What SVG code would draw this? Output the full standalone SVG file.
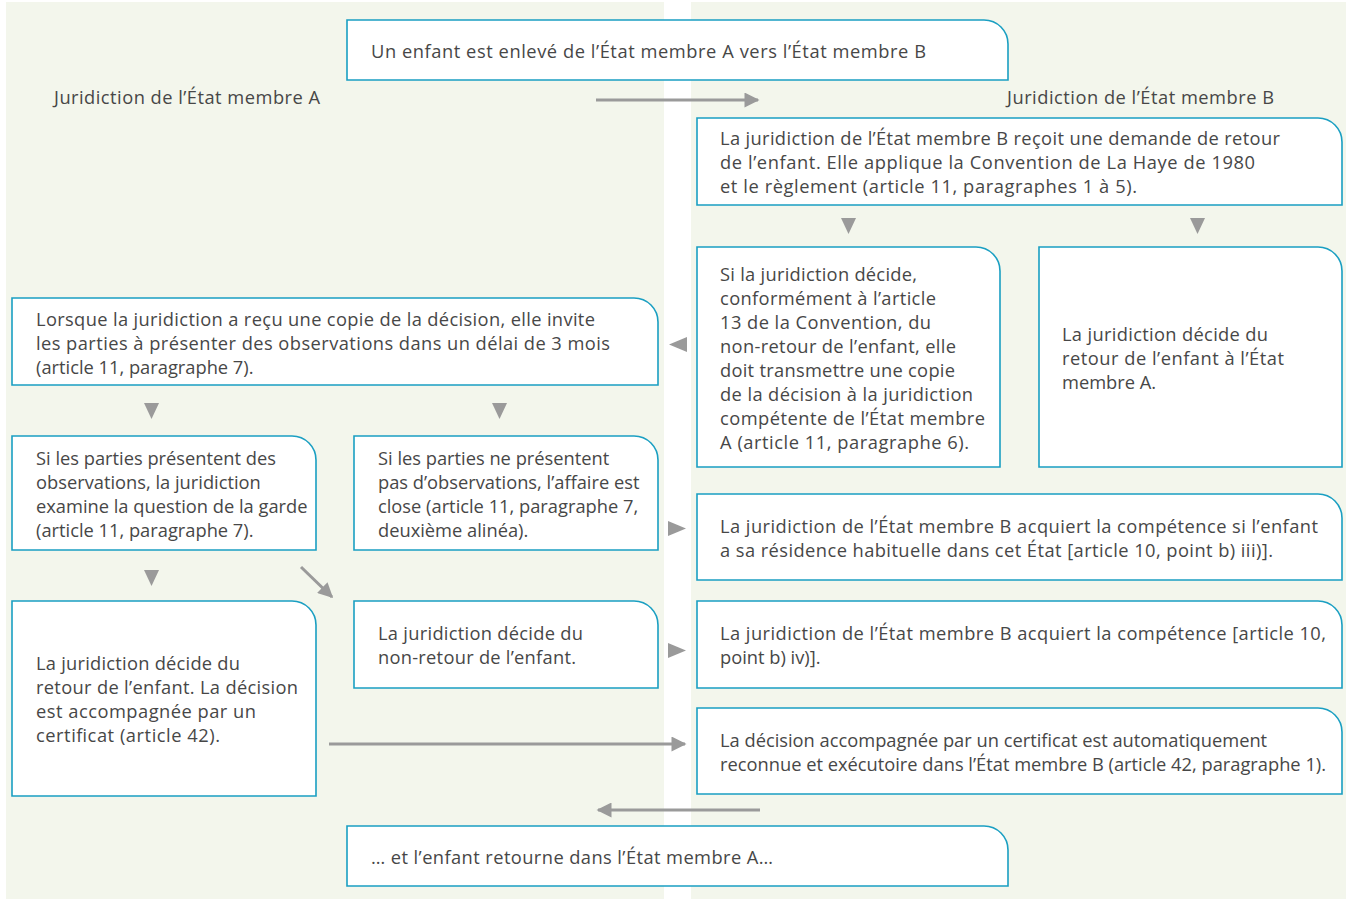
<svg xmlns="http://www.w3.org/2000/svg" width="1347" height="901" viewBox="0 0 1347 901">
<style>
.bg{fill:#f3f6ec}
.box{fill:#fff;stroke:#1a9fc2;stroke-width:1.6}
text{font-family:"Open Sans","Noto Sans",sans-serif;font-size:18.3px;fill:#474747}
.ln{stroke:#9a9a9a;stroke-width:3;fill:none}
.tri{fill:#9a9a9a}
</style>
<defs>
<marker id="ah" viewBox="0 0 10 10" refX="9" refY="5" markerWidth="6" markerHeight="5" orient="auto" markerUnits="strokeWidth">
<path d="M0,0 L10,5 L0,10 Z" fill="#9a9a9a"/>
</marker>
</defs>
<rect class="bg" x="6" y="2" width="658" height="897"/>
<rect class="bg" x="691" y="2" width="655" height="897"/>

<g id="n-top"><path class="box" d="M347,20 H984 A24,24 0 0 1 1008,44 V80 H347 Z"/>
<text x="371" y="58" textLength="555" lengthAdjust="spacing">Un enfant est enlevé de l’État membre A vers l’État membre B</text></g>
<g id="lbl-a"><text x="54" y="104" textLength="266" lengthAdjust="spacing">Juridiction de l’État membre A</text></g>
<g id="lbl-b"><text x="1007" y="104" textLength="267" lengthAdjust="spacing">Juridiction de l’État membre B</text></g>

<g id="n-b-demande"><path class="box" d="M697,118 H1318 A24,24 0 0 1 1342,142 V205 H697 Z"/>
<text x="720" y="145" textLength="560" lengthAdjust="spacing">La juridiction de l’État membre B reçoit une demande de retour</text>
<text x="720" y="169" textLength="535" lengthAdjust="spacing">de l’enfant. Elle applique la Convention de La Haye de 1980</text>
<text x="720" y="193" textLength="417" lengthAdjust="spacing">et le règlement (article 11, paragraphes 1 à 5).</text></g>

<g id="n-b-nonretour"><path class="box" d="M697,247 H976 A24,24 0 0 1 1000,271 V467 H697 Z"/>
<text x="720" y="281" textLength="197" lengthAdjust="spacing">Si la juridiction décide,</text>
<text x="720" y="305" textLength="216" lengthAdjust="spacing">conformément à l’article</text>
<text x="720" y="329" textLength="211" lengthAdjust="spacing">13 de la Convention, du</text>
<text x="720" y="353" textLength="236" lengthAdjust="spacing">non-retour de l’enfant, elle</text>
<text x="720" y="377" textLength="235" lengthAdjust="spacing">doit transmettre une copie</text>
<text x="720" y="401" textLength="253" lengthAdjust="spacing">de la décision à la juridiction</text>
<text x="720" y="425" textLength="265" lengthAdjust="spacing">compétente de l’État membre</text>
<text x="720" y="449" textLength="249" lengthAdjust="spacing">A (article 11, paragraphe 6).</text></g>

<g id="n-b-retour"><path class="box" d="M1039,247 H1318 A24,24 0 0 1 1342,271 V467 H1039 Z"/>
<text x="1062" y="341" textLength="206" lengthAdjust="spacing">La juridiction décide du</text>
<text x="1062" y="365" textLength="222" lengthAdjust="spacing">retour de l’enfant à l’État</text>
<text x="1062" y="389">membre A.</text></g>

<g id="n-a-copie"><path class="box" d="M12,298 H634 A24,24 0 0 1 658,322 V385 H12 Z"/>
<text x="36" y="326" textLength="559" lengthAdjust="spacing">Lorsque la juridiction a reçu une copie de la décision, elle invite</text>
<text x="36" y="350" textLength="574" lengthAdjust="spacing">les parties à présenter des observations dans un délai de 3 mois</text>
<text x="36" y="374">(article 11, paragraphe 7).</text></g>

<g id="n-a-obs"><path class="box" d="M12,436 H292 A24,24 0 0 1 316,460 V550 H12 Z"/>
<text x="36" y="465">Si les parties présentent des</text>
<text x="36" y="489">observations, la juridiction</text>
<text x="36" y="513">examine la question de la garde</text>
<text x="36" y="537">(article 11, paragraphe 7).</text></g>

<g id="n-a-noobs"><path class="box" d="M354,436 H634 A24,24 0 0 1 658,460 V550 H354 Z"/>
<text x="378" y="465">Si les parties ne présentent</text>
<text x="378" y="489">pas d’observations, l’affaire est</text>
<text x="378" y="513">close (article 11, paragraphe 7,</text>
<text x="378" y="537">deuxième alinéa).</text></g>

<g id="n-b-comp1"><path class="box" d="M697,494 H1318 A24,24 0 0 1 1342,518 V580 H697 Z"/>
<text x="720" y="533" textLength="598" lengthAdjust="spacing">La juridiction de l’État membre B acquiert la compétence si l’enfant</text>
<text x="720" y="557" textLength="553" lengthAdjust="spacing">a sa résidence habituelle dans cet État [article 10, point b) iii)].</text></g>

<g id="n-a-retour"><path class="box" d="M12,601 H292 A24,24 0 0 1 316,625 V796 H12 Z"/>
<text x="36" y="670" textLength="204" lengthAdjust="spacing">La juridiction décide du</text>
<text x="36" y="694" textLength="262" lengthAdjust="spacing">retour de l’enfant. La décision</text>
<text x="36" y="718" textLength="220" lengthAdjust="spacing">est accompagnée par un</text>
<text x="36" y="742" textLength="184" lengthAdjust="spacing">certificat (article 42).</text></g>

<g id="n-a-nonretour"><path class="box" d="M354,601 H634 A24,24 0 0 1 658,625 V688 H354 Z"/>
<text x="378" y="640" textLength="205" lengthAdjust="spacing">La juridiction décide du</text>
<text x="378" y="664" textLength="198" lengthAdjust="spacing">non-retour de l’enfant.</text></g>

<g id="n-b-comp2"><path class="box" d="M697,601 H1318 A24,24 0 0 1 1342,625 V688 H697 Z"/>
<text x="720" y="640" textLength="606" lengthAdjust="spacing">La juridiction de l’État membre B acquiert la compétence [article 10,</text>
<text x="720" y="664">point b) iv)].</text></g>

<g id="n-b-exec"><path class="box" d="M697,708 H1318 A24,24 0 0 1 1342,732 V794 H697 Z"/>
<text x="720" y="747">La décision accompagnée par un certificat est automatiquement</text>
<text x="720" y="771">reconnue et exécutoire dans l’État membre B (article 42, paragraphe 1).</text></g>

<g id="n-bottom"><path class="box" d="M347,826 H984 A24,24 0 0 1 1008,850 V886 H347 Z"/>
<text x="371" y="864" textLength="402" lengthAdjust="spacing">… et l’enfant retourne dans l’État membre A…</text></g>

<g id="connectors">
<line class="ln" x1="596" y1="100" x2="758" y2="100" marker-end="url(#ah)"/>
<path class="tri" d="M841,218 H856 L848.5,234 Z"/>
<path class="tri" d="M1190,218 H1205 L1197.5,234 Z"/>
<path class="tri" d="M687,337 V352 L669,344.5 Z"/>
<path class="tri" d="M144,403 H159 L151.5,419 Z"/>
<path class="tri" d="M492,403 H507 L499.5,419 Z"/>
<path class="tri" d="M668,521 V536 L686,528.5 Z"/>
<path class="tri" d="M144,570 H159 L151.5,586 Z"/>
<line class="ln" x1="301" y1="567" x2="332" y2="597" marker-end="url(#ah)"/>
<path class="tri" d="M668,643 V658 L686,650.5 Z"/>
<line class="ln" x1="329" y1="744" x2="685" y2="744" marker-end="url(#ah)"/>
<line class="ln" x1="760" y1="810" x2="598" y2="810" marker-end="url(#ah)"/>
</g>
</svg>
